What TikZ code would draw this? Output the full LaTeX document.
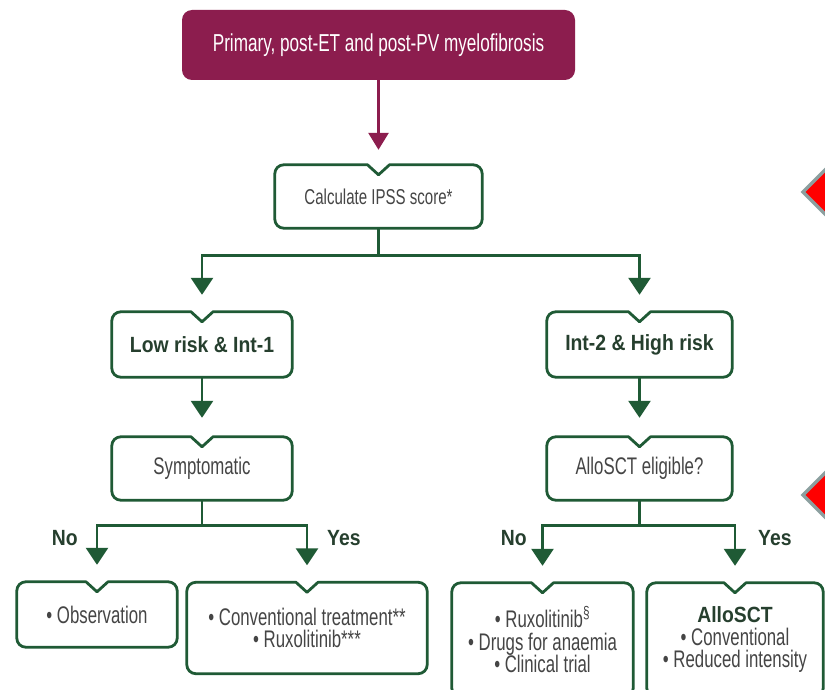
\documentclass[tikz,border=0pt]{standalone}
\usepackage{fontspec}
\setmainfont{Liberation Sans}[FakeStretch=0.7, BoldFeatures={FakeStretch=0.88}]
\usetikzlibrary{arrows.meta}
\definecolor{mfplum}{HTML}{8C1D4E}
\definecolor{mfgreen}{HTML}{1F5A35}
\definecolor{mfdark}{HTML}{263F2E}
\definecolor{mftext}{HTML}{454545}
\definecolor{mfgrey}{HTML}{8C9F9F}
\tikzset{
  plumbox/.style={
    fill=mfplum,
    text=white,
    rounded corners=10pt,
    inner sep=0pt,
    font=\fontsize{24.5}{26}\selectfont
  },
  stage/.style={
    inner sep=0pt,
    align=center,
    text=mftext,
    font=\fontsize{24}{22.5}\selectfont
  },
  riskstage/.style={
    stage,
    text=mfdark,
    font=\fontsize{22}{24}\selectfont\bfseries
  },
  notch/.style={
    draw=mfgreen,
    line width=2.8pt,
    line join=round
  },
  flow/.style={
    draw=mfgreen,
    line width=2.8pt
  },
  flowarrow/.style={
    flow,
    -{Triangle[width=22pt,length=17pt]}
  },
  answer/.style={
    text=mfdark,
    inner sep=0pt,
    font=\fontsize{22}{24}\selectfont\bfseries
  },
  pointer/.style={
    draw=mfgrey,
    fill=red,
    line width=3.5pt
  }
}

\begin{document}
\begin{tikzpicture}[x=1pt,y=-1pt]
  \useasboundingbox[fill=white] (0,0) rectangle (825,690);

  \node[plumbox, minimum width=393pt, minimum height=70pt] (start) at (378.5,45) {Primary, post-ET and post-PV myelofibrosis};
  \node[stage, minimum width=207pt, minimum height=63pt, font=\fontsize{21.5}{23}\selectfont] (ipss) at (378.5,196.5) {Calculate IPSS score*};

  \node[riskstage, minimum width=180pt, minimum height=65pt] (low) at (202,344.5) {Low risk \& Int-1};
  \node[riskstage, minimum width=185pt, minimum height=65pt] (high) at (639.5,344.5) {Int-2 \& High risk};
  \node[stage, minimum width=180pt, minimum height=63pt] (sympt) at (202,468.5) {Symptomatic};
  \node[stage, minimum width=185pt, minimum height=63pt] (eligible) at (639.5,468.5) {AlloSCT eligible?};

  \node[stage, minimum width=160pt, minimum height=65pt] (obs) at (97,614.5) {• Observation};
  \node[stage, minimum width=240pt, minimum height=91pt] (conv) at (307,628) {• Conventional treatment**\\• Ruxolitinib***};
  \node[stage, minimum width=181pt, minimum height=114pt] (rux) at (542.5,640) {• Ruxolitinib\textsuperscript{§}\\• Drugs for anaemia\\• Clinical trial};
  \node[stage, minimum width=176pt, minimum height=114pt] (sct) at (735,640) {{\bfseries\color{mfdark}\fontsize{22}{22.5}\selectfont AlloSCT}\\• Conventional\\• Reduced intensity};

  % outlines with the notch on top
  \foreach \n in {ipss,low,high,sympt,eligible,obs,conv,rux,sct}
    \draw[notch] ([yshift=-10pt]\n.north) -- ([xshift=11pt]\n.north)
      [rounded corners=9pt] -- (\n.north east) -- (\n.south east) -- (\n.south west) -- (\n.north west)
      [sharp corners] -- ([xshift=-11pt]\n.north) -- cycle;

  % connectors
  \draw[flow, draw=mfplum, -{Triangle[width=20pt,length=17pt]}] (start.south) -- ([yshift=15pt]ipss.north);

  \draw[flow] (ipss.south) -- ++(0,27) coordinate (riskfork);
  \draw[flowarrow] (riskfork) -| ([yshift=17pt]low.north);
  \draw[flowarrow] (riskfork) -| ([yshift=17pt]high.north);
  \draw[flowarrow] (low.south) -- ([yshift=19pt]sympt.north);
  \draw[flowarrow] (high.south) -- ([yshift=19pt]eligible.north);

  \draw[flow] (sympt.south) -- ++(0,25) coordinate (symfork);
  \draw[flowarrow] (symfork) -| ([yshift=17pt]obs.north);
  \draw[flowarrow] (symfork) -| ([yshift=17pt]conv.north);
  \draw[flow] (eligible.south) -- ++(0,25) coordinate (allofork);
  \draw[flowarrow] (allofork) -| ([yshift=17pt]rux.north);
  \draw[flowarrow] (allofork) -| ([yshift=17pt]sct.north);

  \node[answer, anchor=east] (symno) at (78,538) {No};
  \node[answer, anchor=west] (symyes) at (327,538) {Yes};
  \node[answer, anchor=east] (allono) at (527,538) {No};
  \node[answer, anchor=west] (alloyes) at (758,538) {Yes};

  % markers cut by the right edge
  \draw[pointer] (803,192) -- (828,167) -- (853,192) -- (828,217) -- cycle;
  \draw[pointer] (803,495) -- (828,470) -- (853,495) -- (828,520) -- cycle;
\end{tikzpicture}
\end{document}
